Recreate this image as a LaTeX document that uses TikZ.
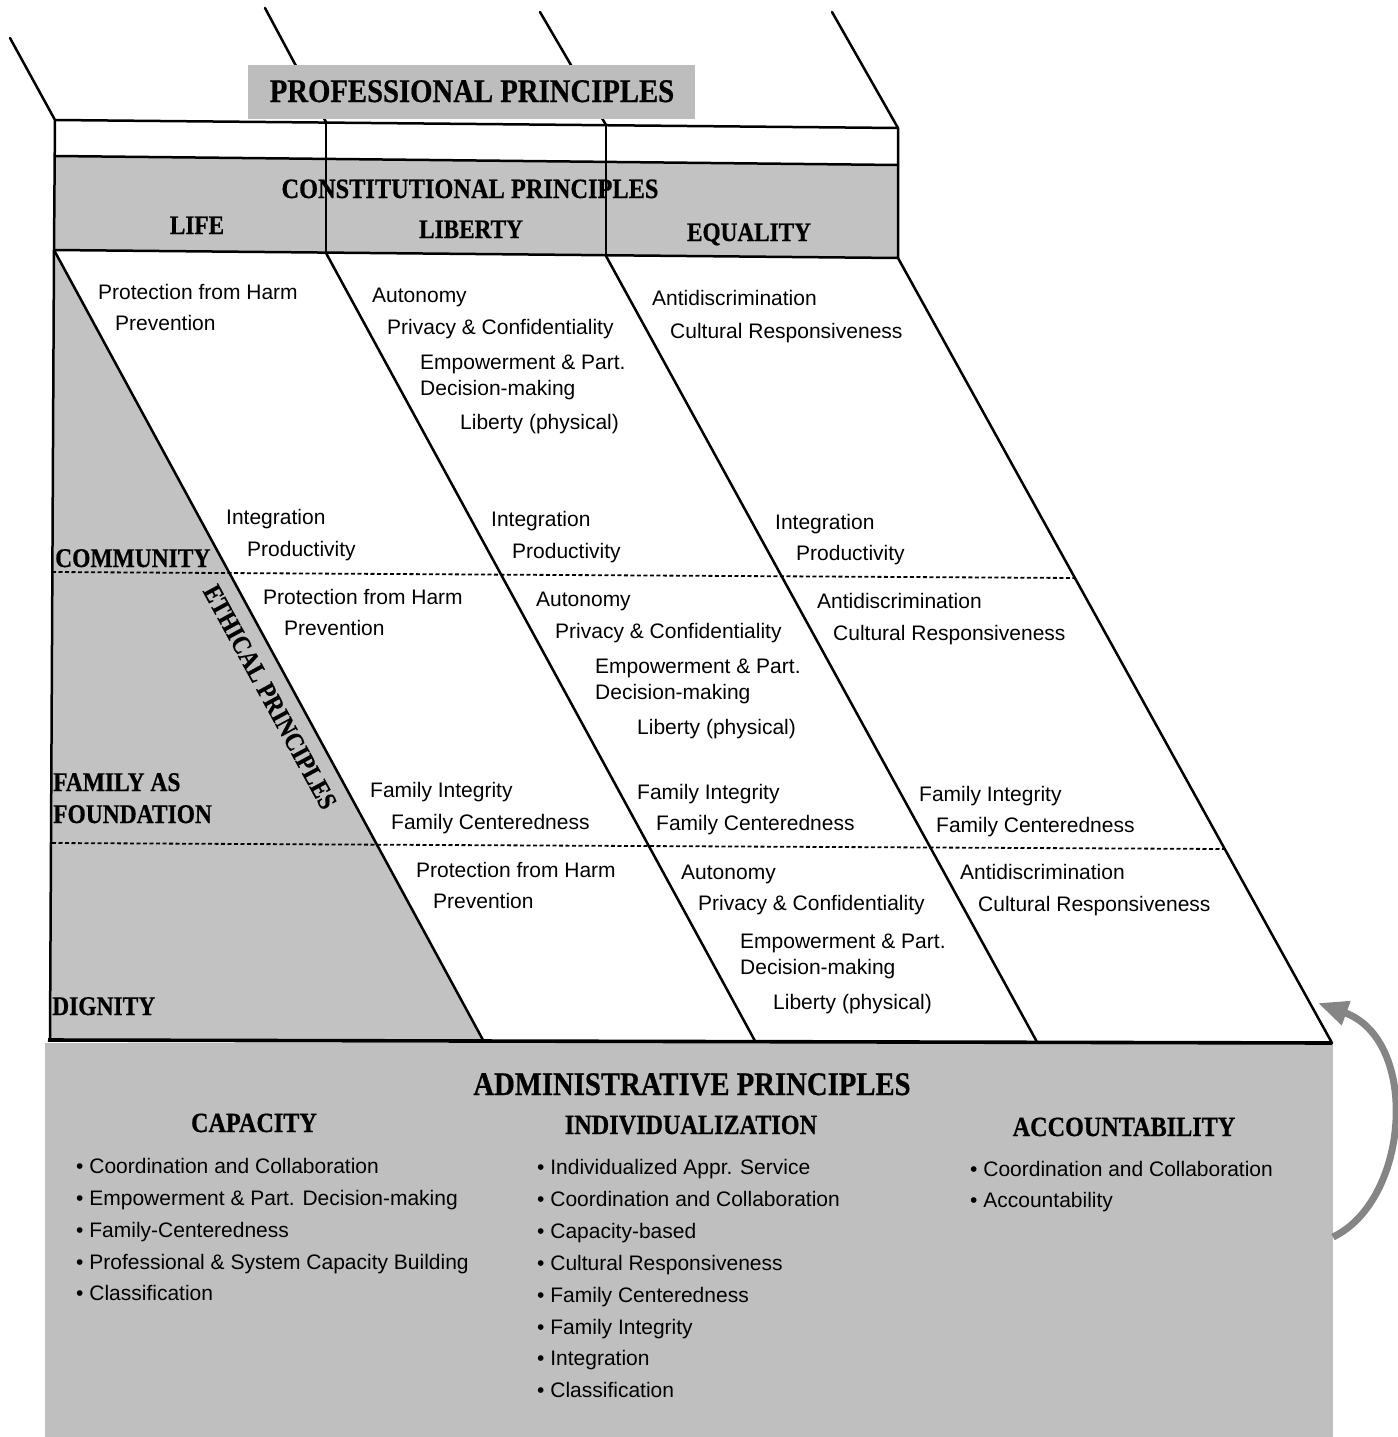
\documentclass[tikz,border=0pt]{standalone}
\usepackage{fontspec}
\setmainfont{Liberation Sans}
\newfontfamily\serifhead[FakeStretch=0.87,FakeBold=0.6]{Liberation Serif}
\usetikzlibrary{arrows.meta}
\definecolor{shadegray}{gray}{0.76}
\definecolor{boxgray}{gray}{0.74}
\definecolor{admingray}{gray}{0.75}
\definecolor{arrowgray}{gray}{0.52}
\begin{document}
\begin{tikzpicture}[x=1pt,y=-1pt,
  txt/.style={anchor=base west,inner sep=0pt,font=\fontsize{21}{25}\selectfont},
  hd/.style={inner sep=0pt,anchor=base,font=\serifhead\bfseries\fontsize{26.7}{30}\selectfont},
  hdl/.style={inner sep=0pt,anchor=base west,font=\serifhead\bfseries\fontsize{27}{30}\selectfont},
  big/.style={inner sep=0pt,anchor=base,font=\serifhead\bfseries\fontsize{33}{36}\selectfont},
  sub/.style={inner sep=0pt,anchor=base,font=\serifhead\bfseries\fontsize{27.8}{30}\selectfont},
  const/.style={inner sep=0pt,anchor=base,font=\serifhead\bfseries\fontsize{28}{30}\selectfont},
  edge/.style={line width=2.5pt,line cap=round,line join=round},
  dotline/.style={line width=1.8pt,dash pattern=on 4pt off 2.5pt},
]
\useasboundingbox (0,0) rectangle (1397,1437);
\fill[white] (0,0) rectangle (1397,1437);

% key points
\coordinate (P1) at (10,38);
\coordinate (P2) at (265,8);
\coordinate (P3) at (540,12);
\coordinate (P4) at (832,12);
\coordinate (TL) at (55,120);
\coordinate (TR) at (898,128);
\coordinate (ML) at (55,156);
\coordinate (MR) at (898,165);
\coordinate (BL) at (54,250);
\coordinate (BR) at (898,258);
\coordinate (V1t) at (326,122);
\coordinate (V1b) at (326,253);
\coordinate (V2t) at (606,125);
\coordinate (V2b) at (606,256);
\coordinate (LLb) at (50,1040);
\coordinate (D1b) at (483,1040);
\coordinate (D2b) at (755,1041);
\coordinate (D3b) at (1037,1042);
\coordinate (D4b) at (1332,1043);
\coordinate (C1l) at (52,572);
\coordinate (C1r) at (1075,578);
\coordinate (C2l) at (52,843);
\coordinate (C2r) at (1225,849);

% shaded areas
\fill[shadegray] (ML) -- (MR) -- (BR) -- (BL) -- cycle;
\fill[shadegray] (BL) -- (D1b) -- (LLb) -- cycle;
\fill[admingray] (45,1043) rectangle (1333,1437);

% professional slanted lines (behind the title box)
\draw[edge] (P2) -- (V1t);
\draw[edge] (P3) -- (V2t);
\fill[boxgray] (248,65) rectangle (695,119);
\node[big] (prof) at (472,102) {PROFESSIONAL PRINCIPLES};

% table
\draw[edge] (P1) -- (TL) -- (BL) -- (LLb);
\draw[edge] (TL) -- (TR) -- (BR) -- (BL);
\draw[edge] (ML) -- (MR);
\draw[edge] (P4) -- (TR);
\draw[edge] (V1t) -- (V1b);
\draw[edge] (V2t) -- (V2b);

% diagonals
\draw[edge] (BL) -- (D1b);
\draw[edge] (V1b) -- (D2b);
\draw[edge] (V2b) -- (D3b);
\draw[edge] (BR) -- (D4b);
\draw[line width=3.6pt] (48,1040) -- (D4b);

% dashed rows
\draw[dotline] (C1l) -- (C1r);
\draw[dotline] (C2l) -- (C2r);

% headings
\node[const] (constp) at (470,198) {CONSTITUTIONAL PRINCIPLES};
\node[hd] (life) at (197,234) {LIFE};
\node[hd] (liberty) at (471,238) {LIBERTY};
\node[hd] (equality) at (749,241) {EQUALITY};
\node[hdl] (community) at (55,567) {COMMUNITY};
\node[hdl] (familyas) at (53,791) {FAMILY AS};
\node[hdl] (foundation) at (53,823) {FOUNDATION};
\node[hdl] (dignity) at (52,1015) {DIGNITY};
\node[inner sep=0pt,rotate=-61.4,font=\serifhead\bfseries\fontsize{26.4}{30}\selectfont] (ethical) at (270,697) {ETHICAL PRINCIPLES};

% row 1
\node[txt] (r1a1) at (98,299) {Protection from Harm};
\node[txt] (r1a2) at (115,330) {Prevention};
\node[txt] (r1b1) at (372,302) {Autonomy};
\node[txt] (r1b2) at (387,334) {Privacy \& Confidentiality};
\node[txt] (r1b3) at (420,369) {Empowerment \& Part.};
\node[txt] (r1b4) at (420,395) {Decision-making};
\node[txt] (r1b5) at (460,429) {Liberty (physical)};
\node[txt] (r1c1) at (652,305) {Antidiscrimination};
\node[txt] (r1c2) at (670,338) {Cultural Responsiveness};
\node[txt] (r1a3) at (226,524) {Integration};
\node[txt] (r1a4) at (247,556) {Productivity};
\node[txt] (r1b6) at (491,526) {Integration};
\node[txt] (r1b7) at (512,558) {Productivity};
\node[txt] (r1c3) at (775,529) {Integration};
\node[txt] (r1c4) at (796,560) {Productivity};

% row 2
\node[txt] (r2a1) at (263,604) {Protection from Harm};
\node[txt] (r2a2) at (284,635) {Prevention};
\node[txt] (r2b1) at (536,606) {Autonomy};
\node[txt] (r2b2) at (555,638) {Privacy \& Confidentiality};
\node[txt] (r2b3) at (595,673) {Empowerment \& Part.};
\node[txt] (r2b4) at (595,699) {Decision-making};
\node[txt] (r2b5) at (637,734) {Liberty (physical)};
\node[txt] (r2c1) at (817,608) {Antidiscrimination};
\node[txt] (r2c2) at (833,640) {Cultural Responsiveness};
\node[txt] (r2a3) at (370,797) {Family Integrity};
\node[txt] (r2a4) at (391,829) {Family Centeredness};
\node[txt] (r2b6) at (637,799) {Family Integrity};
\node[txt] (r2b7) at (656,830) {Family Centeredness};
\node[txt] (r2c3) at (919,801) {Family Integrity};
\node[txt] (r2c4) at (936,832) {Family Centeredness};

% row 3
\node[txt] (r3a1) at (416,877) {Protection from Harm};
\node[txt] (r3a2) at (433,908) {Prevention};
\node[txt] (r3b1) at (681,879) {Autonomy};
\node[txt] (r3b2) at (698,910) {Privacy \& Confidentiality};
\node[txt] (r3b3) at (740,948) {Empowerment \& Part.};
\node[txt] (r3b4) at (740,974) {Decision-making};
\node[txt] (r3b5) at (773,1009) {Liberty (physical)};
\node[txt] (r3c1) at (960,879) {Antidiscrimination};
\node[txt] (r3c2) at (978,911) {Cultural Responsiveness};

% administrative
\node[big] (admin) at (692,1095) {ADMINISTRATIVE PRINCIPLES};
\node[sub] (capacity) at (254,1132) {CAPACITY};
\node[sub] (indiv) at (691,1134) {INDIVIDUALIZATION};
\node[sub] (account) at (1124,1136) {ACCOUNTABILITY};

\node[txt] (ca1) at (76,1173) {\textbullet\ Coordination and Collaboration};
\node[txt] (ca2) at (76,1205) {\textbullet\ Empowerment \& Part. Decision-making};
\node[txt] (ca3) at (76,1237) {\textbullet\ Family-Centeredness};
\node[txt] (ca4) at (76,1269) {\textbullet\ Professional \& System Capacity Building};
\node[txt] (ca5) at (76,1300) {\textbullet\ Classification};

\node[txt] (in1) at (537,1174) {\textbullet\ Individualized Appr. Service};
\node[txt] (in2) at (537,1206) {\textbullet\ Coordination and Collaboration};
\node[txt] (in3) at (537,1238) {\textbullet\ Capacity-based};
\node[txt] (in4) at (537,1270) {\textbullet\ Cultural Responsiveness};
\node[txt] (in5) at (537,1302) {\textbullet\ Family Centeredness};
\node[txt] (in6) at (537,1334) {\textbullet\ Family Integrity};
\node[txt] (in7) at (537,1365) {\textbullet\ Integration};
\node[txt] (in8) at (537,1397) {\textbullet\ Classification};

\node[txt] (ac1) at (970,1176) {\textbullet\ Coordination and Collaboration};
\node[txt] (ac2) at (970,1207) {\textbullet\ Accountability};

% curved arrow
\coordinate (arrS) at (1333,1237);
\coordinate (arrE) at (1318,1003);
\draw[arrowgray,line width=7pt,-{Triangle[length=30pt,width=24pt]}] (arrS) .. controls (1410,1200) and (1420,1040) .. (arrE);
\end{tikzpicture}
\end{document}
